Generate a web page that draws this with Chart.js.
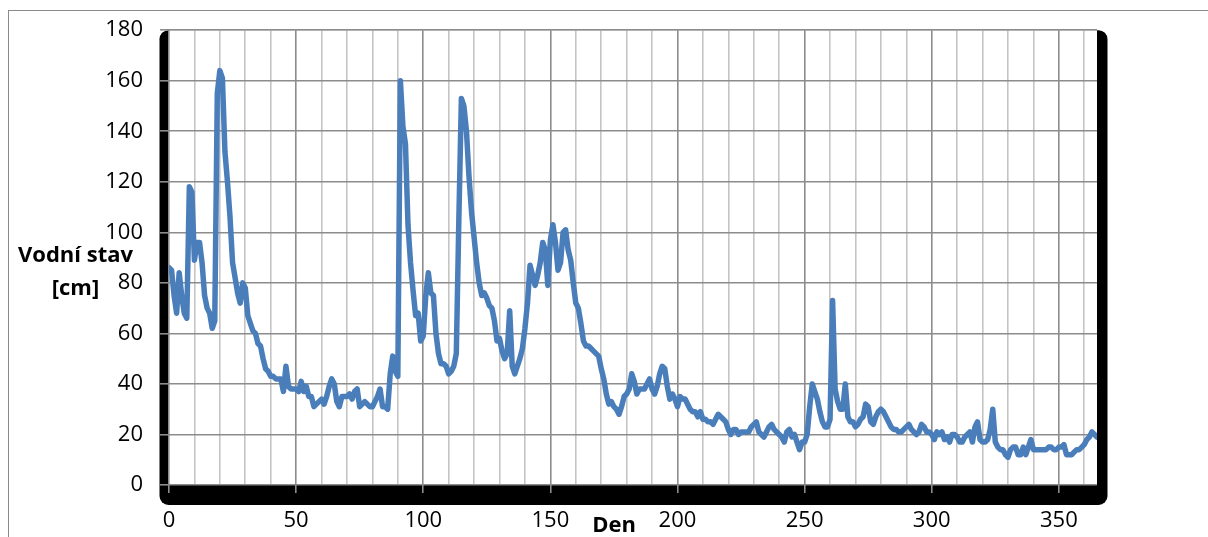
<!DOCTYPE html>
<html>
<head>
<meta charset="utf-8">
<script src="https://cdn.jsdelivr.net/npm/chart.js@4/dist/chart.umd.min.js"></script>
<style>
html,body{margin:0;padding:0;background:#fff;}
canvas{display:block;}
</style>
</head>
<body>
<canvas id="c" width="1208" height="537"></canvas>
<script>
// Daily water level [cm], day 0..365
const waterLevel = [
  86, 85, 75, 68, 84, 75, 68, 66, 118, 116,
  89, 96, 96, 88, 75, 70, 68, 62, 65, 155,
  164, 161, 132, 120, 106, 88, 82, 76, 72, 80,
  78, 67, 64, 61, 60, 56, 55, 50, 46, 45,
  43, 43, 42, 42, 42, 37, 47, 39, 38, 38,
  38, 37, 41, 37, 39, 35, 35, 31, 32, 33,
  34, 32, 35, 39, 42, 40, 33, 31, 35, 35,
  35, 36, 34, 37, 38, 31, 32, 33, 32, 31,
  31, 33, 35, 38, 31, 31, 30, 44, 51, 45,
  43, 160, 142, 135, 103, 88, 77, 67, 68, 57,
  59, 75, 84, 76, 75, 60, 52, 48, 48, 47,
  44, 45, 47, 52, 105, 153, 150, 140, 122, 108,
  98, 88, 80, 75, 76, 74, 71, 70, 65, 57,
  58, 53, 50, 52, 69, 47, 44, 47, 50, 54,
  62, 72, 87, 83, 79, 83, 88, 96, 93, 79,
  97, 103, 96, 85, 88, 100, 101, 93, 89, 80,
  72, 70, 64, 57, 55, 55, 54, 53, 52, 51,
  46, 42, 36, 32, 33, 31, 30, 28, 31, 35,
  36, 38, 44, 41, 36, 38, 38, 38, 40, 42,
  38, 36, 39, 44, 47, 46, 39, 34, 36, 34,
  31, 35, 34, 34, 32, 30, 29, 29, 27, 29,
  26, 26, 25, 25, 24, 26, 28, 27, 26, 25,
  22, 20, 22, 22, 20, 21, 21, 21, 21, 23,
  24, 25, 21, 20, 19, 21, 23, 24, 22, 21,
  20, 19, 17, 21, 22, 19, 20, 17, 14, 17,
  17, 20, 31, 40, 37, 34, 29, 25, 23, 23,
  26, 73, 38, 33, 30, 30, 40, 27, 25, 25,
  23, 24, 26, 27, 32, 31, 25, 24, 27, 29,
  30, 29, 27, 25, 23, 22, 22, 21, 21, 22,
  23, 24, 22, 21, 20, 21, 24, 23, 21, 21,
  20, 18, 21, 20, 21, 18, 19, 17, 20, 20,
  19, 17, 17, 19, 20, 21, 17, 23, 25, 18,
  17, 17, 18, 22, 30, 17, 15, 14, 14, 12,
  11, 14, 15, 15, 12, 12, 15, 12, 15, 18,
  14, 14, 14, 14, 14, 14, 15, 15, 14, 14,
  15, 15, 16, 12, 12, 12, 13, 14, 14, 15,
  16, 18, 19, 21, 20, 19
];
const xMin = 0, xMax = 365, xStep = 10, xLabelEvery = 50;
const yMin = 0, yMax = 180, yStep = 20;
const yTitle = ['Vodní stav', '[cm]'];
const xTitle = 'Den';

const points = waterLevel.map((v, i) => ({x: i, y: v}));

Chart.defaults.font.family = '"Open Sans", sans-serif';
Chart.defaults.font.size = 22;
Chart.defaults.color = '#000';

const framePlugin = {
  id: 'frame',
  beforeDraw(chart) {
    const ctx = chart.ctx;
    const a = chart.chartArea;
    ctx.save();
    ctx.fillStyle = '#fff';
    ctx.fillRect(0, 0, chart.width, chart.height);
    // outer chart border
    ctx.strokeStyle = '#8a8a8a';
    ctx.lineWidth = 1;
    ctx.strokeRect(8.5, 10.5, 1400, 800);
    // black frame around plot (left, bottom, right)
    ctx.fillStyle = '#000';
    ctx.beginPath();
    ctx.roundRect(a.left - 9.5, a.top, (a.right - a.left) + 20, (a.bottom - a.top) + 20, 9);
    ctx.fill();
    ctx.fillStyle = '#fff';
    ctx.fillRect(a.left, a.top, a.right - a.left, a.bottom - a.top);
    ctx.restore();
  },
  afterDraw(chart) {
    const ctx = chart.ctx;
    const a = chart.chartArea;
    ctx.save();
    ctx.fillStyle = '#000';
    ctx.font = 'bold 22px "Open Sans", sans-serif';
    ctx.textAlign = 'center';
    ctx.textBaseline = 'middle';
    ctx.fillText(yTitle[0], 75.5, 256);
    ctx.fillText(yTitle[1], 75.5, 289);
    ctx.fillText(xTitle, a.left + 445, 526);
    ctx.restore();
  }
};

new Chart(document.getElementById('c'), {
  type: 'line',
  data: {
    datasets: [{
      data: points,
      borderColor: '#4a7ebb',
      borderWidth: 5.5,
      pointRadius: 0,
      pointHoverRadius: 0,
      tension: 0,
      borderJoinStyle: 'round',
      borderCapStyle: 'round',
      fill: false
    }]
  },
  options: {
    responsive: false,
    animation: false,
    devicePixelRatio: 1,
    layout: { padding: { left: 0, right: 111, top: 27, bottom: 0 } },
    plugins: { legend: { display: false }, tooltip: { enabled: false } },
    scales: {
      x: {
        type: 'linear',
        min: xMin,
        max: xMax,
        afterFit(scale) { scale.height = 52; },
        border: { display: false },
        grid: {
          color: (ctx) => (ctx.tick && ctx.tick.value % xLabelEvery === 0) ? '#8c8c8c' : '#c4c4c4',
          lineWidth: 1.6,
          tickLength: 8,
          tickColor: (ctx) => (ctx.tick && ctx.tick.value % xLabelEvery === 0) ? '#8c8c8c' : 'rgba(0,0,0,0)'
        },
        ticks: {
          stepSize: xStep,
          includeBounds: false,
          autoSkip: false,
          maxRotation: 0,
          padding: 15,
          callback: (v) => (v % xLabelEvery === 0) ? String(v) : ''
        }
      },
      y: {
        min: yMin,
        max: yMax,
        afterFit(scale) { scale.width = 169; },
        border: { display: false },
        grid: {
          color: '#8c8c8c',
          lineWidth: 1.6,
          tickLength: 9,
          tickColor: '#8c8c8c'
        },
        ticks: {
          stepSize: yStep,
          padding: 17
        }
      }
    }
  },
  plugins: [framePlugin]
});
</script>
</body>
</html>
